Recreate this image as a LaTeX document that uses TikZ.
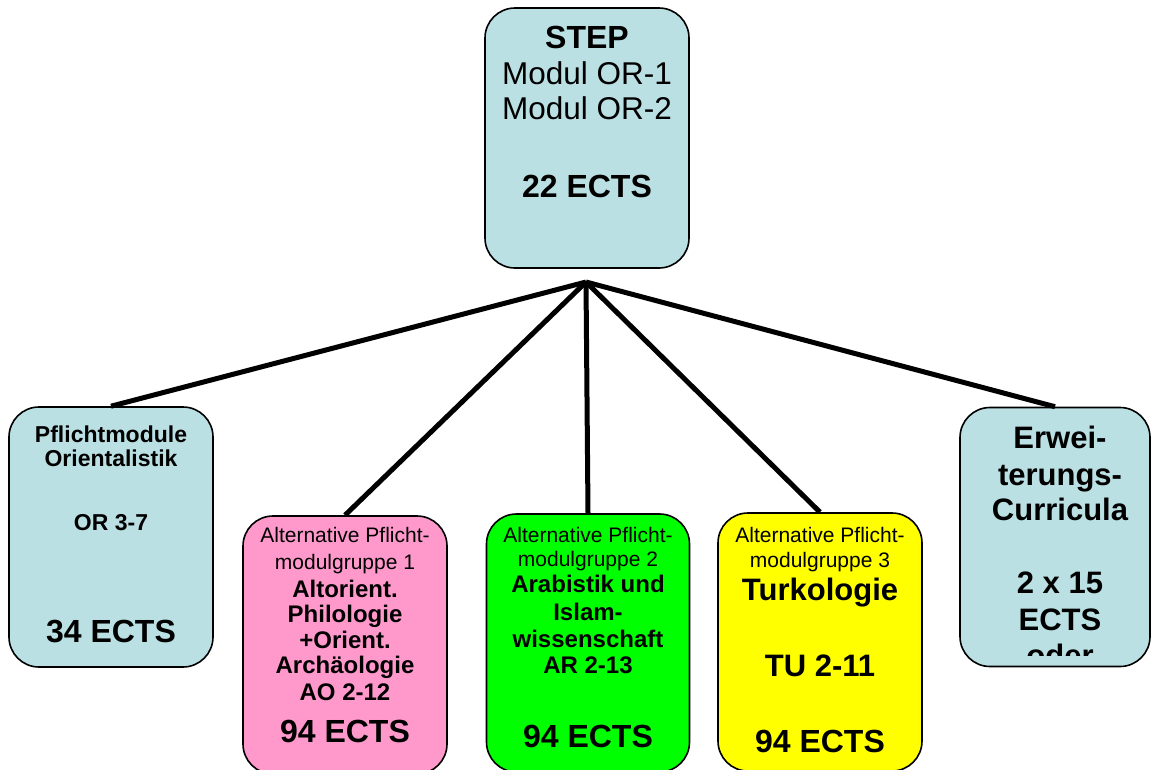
\documentclass[tikz,border=0pt]{standalone}
\usepackage{fontspec}
\setmainfont{Liberation Sans}
\definecolor{lblue}{HTML}{BAE0E3}
\definecolor{lpink}{HTML}{FF99CC}
\definecolor{lgreen}{HTML}{00FF00}
\definecolor{lyellow}{HTML}{FFFF00}
\newcommand{\fs}[1]{\fontsize{#1}{#1}\selectfont}
\tikzset{
  box/.style={draw=black, line width=1.6pt, rounded corners=30pt, inner sep=0pt},
  conn/.style={draw=black, line width=5pt},
  txt/.style={anchor=base, inner sep=0pt},
}
\begin{document}
\begin{tikzpicture}[x=1pt, y=-1pt]
\useasboundingbox (0,0) rectangle (1154,769);
\clip (0,0) rectangle (1154,769);
% boxes
\node[box, fill=lblue, minimum width=204pt, minimum height=260pt] (step) at (587,138) {};
\node[box, fill=lblue, minimum width=204pt, minimum height=260pt] (orient) at (111,537) {};
\node[box, fill=lpink, minimum width=204pt, minimum height=258pt] (alt1) at (345,645) {};
\node[box, fill=lgreen, minimum width=203pt, minimum height=258pt] (alt2) at (588,643) {};
\node[box, fill=lyellow, minimum width=204pt, minimum height=258pt] (alt3) at (820,642) {};
\node[box, fill=lblue, minimum width=190pt, minimum height=259pt] (erw) at (1055,537) {};
% connectors
\coordinate (hub) at (586,282);
\draw[conn] (hub) -- (orient.north);
\draw[conn] (hub) -- (alt1.north);
\draw[conn] (hub) -- (alt2.north);
\draw[conn] (hub) -- (alt3.north);
\draw[conn] (hub) -- (erw.north);
% STEP text
\node[txt, font=\fs{32}\bfseries] (s1) at (587,48) {STEP};
\node[txt, font=\fs{31.5}] (s2) at (587,84) {Modul OR-1};
\node[txt, font=\fs{31.5}] (s3) at (587,119) {Modul OR-2};
\node[txt, font=\fs{32}\bfseries] (s4) at (587,197) {22 ECTS};
% Orientalistik text
\node[txt, font=\fs{23}\bfseries] (o1) at (111,442) {Pflichtmodule};
\node[txt, font=\fs{23}\bfseries] (o2) at (111,466) {Orientalistik};
\node[txt, font=\fs{23}\bfseries] (o3) at (111,530) {OR 3-7};
\node[txt, font=\fs{32}\bfseries] (o4) at (111,642) {34 ECTS};
% alt 1
\node[txt, font=\fs{21}] (a1) at (345,542) {Alternative Pflicht-};
\node[txt, font=\fs{21}] (a2) at (345,569) {modulgruppe 1};
\node[txt, font=\fs{24}\bfseries] (a3) at (345,597) {Altorient.};
\node[txt, font=\fs{24}\bfseries] (a4) at (345,622) {Philologie};
\node[txt, font=\fs{24}\bfseries] (a5) at (345,648) {+Orient.};
\node[txt, font=\fs{24}\bfseries] (a6) at (345,673) {Archäologie};
\node[txt, font=\fs{24}\bfseries] (a7) at (345,700) {AO 2-12};
\node[txt, font=\fs{32}\bfseries] (a8) at (345,742) {94 ECTS};
% alt 2
\node[txt, font=\fs{21}] (b1) at (588,542) {Alternative Pflicht-};
\node[txt, font=\fs{21}] (b2) at (588,566) {modulgruppe 2};
\node[txt, font=\fs{24}\bfseries] (b3) at (588,592) {Arabistik und};
\node[txt, font=\fs{24}\bfseries] (b4) at (588,620) {Islam-};
\node[txt, font=\fs{24}\bfseries] (b5) at (588,647) {wissenschaft};
\node[txt, font=\fs{24}\bfseries] (b6) at (588,673) {AR 2-13};
\node[txt, font=\fs{32}\bfseries] (b7) at (588,747) {94 ECTS};
% alt 3
\node[txt, font=\fs{21}] (c1) at (820,542) {Alternative Pflicht-};
\node[txt, font=\fs{21}] (c2) at (820,567) {modulgruppe 3};
\node[txt, font=\fs{31}\bfseries] (c3) at (820,600) {Turkologie};
\node[txt, font=\fs{31}\bfseries] (c4) at (820,676) {TU 2-11};
\node[txt, font=\fs{32}\bfseries] (c5) at (820,752) {94 ECTS};
% Erweiterungs
\node[txt, font=\fs{31}\bfseries] (e1) at (1060,448) {Erwei-};
\node[txt, font=\fs{31}\bfseries] (e2) at (1060,485) {terungs-};
\node[txt, font=\fs{31}\bfseries] (e3) at (1060,520) {Curricula};
\node[txt, font=\fs{31}\bfseries] (e4) at (1060,593) {2 x 15};
\node[txt, font=\fs{31}\bfseries] (e5) at (1060,630) {ECTS};
\begin{scope}
\clip (960,600) rectangle (1154,655);
\node[txt, font=\fs{31}\bfseries] (e6) at (1060,666) {oder};
\end{scope}
\end{tikzpicture}
\end{document}
